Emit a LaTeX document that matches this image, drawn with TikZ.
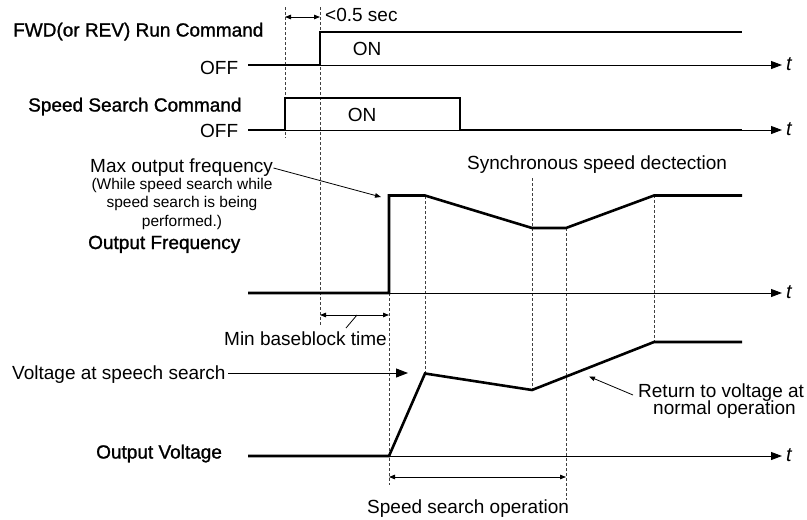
\documentclass[tikz,border=0pt]{standalone}
\usepackage{fontspec}
\setmainfont{Liberation Sans}
\newfontfamily\heavyfont[FakeBold=1.2]{Liberation Sans}
\usetikzlibrary{arrows.meta}
\tikzset{
  sig/.style={line width=2.6pt, line join=miter},
  axisline/.style={line width=0.9pt, -{Triangle[length=11pt,width=8pt]}},
  guide/.style={dash pattern=on 3pt off 2pt, line width=0.8pt, black!75},
  dimarrow/.style={line width=0.8pt, {Triangle[length=6pt,width=4.5pt]}-{Triangle[length=6pt,width=4.5pt]}},
  leader/.style={line width=0.8pt, -{Triangle[length=6pt,width=4.5pt]}},
  bigleader/.style={line width=1pt, -{Triangle[length=12pt,width=9pt]}},
  lbl/.style={inner sep=0pt, anchor=base west, font=\fontsize{19}{22}\selectfont},
  hlbl/.style={inner sep=0pt, anchor=base west, font=\fontsize{19}{22}\selectfont\heavyfont},
  clbl/.style={inner sep=0pt, anchor=base, font=\fontsize{19}{22}\selectfont},
  smalllbl/.style={inner sep=0pt, anchor=base, font=\fontsize{15.5}{18}\selectfont},
  tlbl/.style={inner sep=0pt, anchor=base west, font=\fontsize{20}{22}\selectfont\itshape},
}
\begin{document}
\begin{tikzpicture}[x=1pt,y=-1pt]
\useasboundingbox[fill=white] (0,0) rectangle (807,520);

% ---------- dashed guides ----------
\draw[guide] (285,7) -- (285,138);
\draw[guide] (320,7) -- (320,325);
\draw[guide] (389,293) -- (389,485);
\draw[guide] (425,196) -- (425,373);
\draw[guide] (532,178) -- (532,390);
\draw[guide] (566,228) -- (566,500);
\draw[guide] (654,195) -- (654,342);

% ---------- FWD run command ----------
\node[hlbl] (fwd) at (13,36.5) {FWD(or REV) Run Command};
\node[lbl] (off1) at (200,74) {OFF};
\coordinate (ax1s) at (248,65);
\coordinate (ax1e) at (782,65);
\draw[axisline] (ax1s) -- (ax1e);
\node[tlbl] (t1) at (786,70.5) {t};
\draw[sig] (248,65) -- (320,65) -- (320,32) -- (742,32);
\node[clbl] (on1) at (367,55.5) {ON};
\coordinate (d1a) at (285,17);
\coordinate (d1b) at (320,17);
\draw[dimarrow] (d1a) -- (d1b);
\node[lbl] (lt05) at (325,21) {<0.5 sec};

% ---------- Speed search command ----------
\node[hlbl] (ssc) at (28,111.5) {Speed Search Command};
\node[lbl] (off2) at (200,137.5) {OFF};
\coordinate (ax2s) at (248,130);
\coordinate (ax2e) at (782,130);
\draw[axisline] (ax2s) -- (ax2e);
\node[tlbl] (t2) at (786,135.5) {t};
\draw[sig] (248,130) -- (285,130) -- (285,98) -- (460,98) -- (460,130) -- (742,130);
\node[clbl] (on2) at (362,121) {ON};

% ---------- Output frequency ----------
\node[lbl] (maxf) at (90,172) {Max output frequency};
\node[smalllbl] (w1) at (182,189) {(While speed search while};
\node[smalllbl] (w2) at (182,207.5) {speed search is being};
\node[smalllbl] (w3) at (182,226) {performed.)};
\node[hlbl] (ofreq) at (88,249) {Output Frequency};
\node[lbl] (sync) at (467,169) {Synchronous speed dectection};
\coordinate (ax3s) at (248,293);
\coordinate (ax3e) at (782,293);
\draw[axisline] (ax3s) -- (ax3e);
\node[tlbl] (t3) at (786,298.5) {t};
\draw[sig] (248,293) -- (389,293) -- (389,195.5) -- (425,195.5) -- (532,228) -- (566,228) -- (654,195.5) -- (742,195.5);
\coordinate (maxfs) at (273.5,168);
\coordinate (maxfe) at (381,197);
\draw[leader] (maxfs) -- (maxfe);

% min baseblock
\coordinate (mb1) at (320,315);
\coordinate (mb2) at (389,315);
\draw[dimarrow] (mb1) -- (mb2);
\node[lbl] (minbb) at (224,345.5) {Min baseblock time};
\coordinate (mbl1) at (357,315);
\coordinate (mbl2) at (346,328);
\draw[line width=0.8pt] (mbl1) -- (mbl2);

% ---------- Output voltage ----------
\node[lbl] (vss) at (12,379) {Voltage at speech search};
\coordinate (vssa) at (228,373);
\coordinate (vssb) at (408,373);
\draw[bigleader] (vssa) -- (vssb);
\node[hlbl] (ovolt) at (96,458.5) {Output Voltage};
\coordinate (ax4s) at (248,456);
\coordinate (ax4e) at (782,456);
\draw[axisline] (ax4s) -- (ax4e);
\node[tlbl] (t4) at (786,461.5) {t};
\draw[sig] (248,456) -- (389,456) -- (425,373.5) -- (532,390) -- (654,342) -- (742,342);

\coordinate (so1) at (389,477);
\coordinate (so2) at (566,477);
\draw[dimarrow] (so1) -- (so2);
\node[lbl] (sop) at (367,513.5) {Speed search operation};

\node[lbl] (ret1) at (638,397) {Return to voltage at};
\node[lbl] (ret2) at (653,414.5) {normal operation};
\coordinate (reta) at (633,395);
\coordinate (retb) at (589,376.5);
\draw[leader] (reta) -- (retb);
\end{tikzpicture}
\end{document}
